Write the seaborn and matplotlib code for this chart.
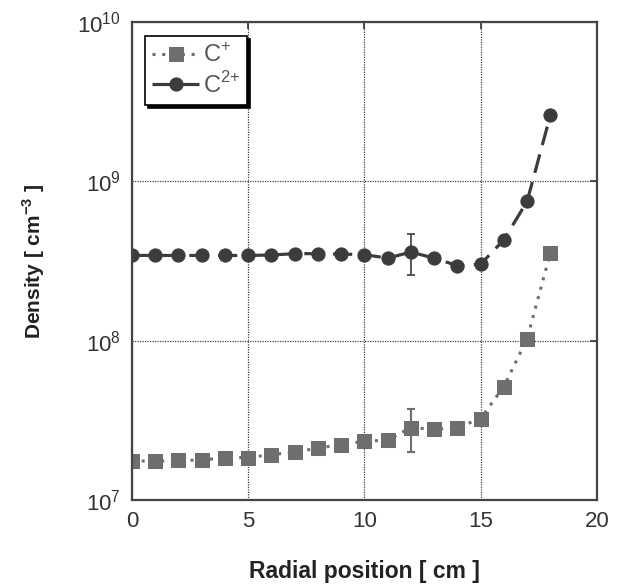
import numpy as np
import pandas as pd
import seaborn as sns
import matplotlib.pyplot as plt

# data
radius = [0, 1, 2, 3, 4, 5, 6, 7, 8, 9, 10, 11, 12, 13, 14, 15, 16, 17, 18]
c_plus = [1.77e7, 1.75e7, 1.78e7, 1.78e7, 1.85e7, 1.85e7, 1.93e7, 2.0e7,
          2.12e7, 2.23e7, 2.34e7, 2.38e7, 2.85e7, 2.78e7, 2.85e7, 3.25e7,
          5.16e7, 1.03e8, 3.56e8]
c_2plus = [3.43e8, 3.43e8, 3.43e8, 3.43e8, 3.43e8, 3.43e8, 3.45e8, 3.52e8,
           3.52e8, 3.5e8, 3.47e8, 3.3e8, 3.6e8, 3.3e8, 2.96e8, 3.02e8,
           4.3e8, 7.5e8, 2.6e9]
err_x = [12]
c_plus_err = [2.85e7]
c_plus_lo = [2.01e7]
c_plus_hi = [3.75e7]
c_2plus_err = [3.6e8]
c_2plus_lo = [2.57e8]
c_2plus_hi = [4.69e8]

sns.set_style("white")
plt.rcParams["font.family"] = ["Liberation Sans", "DejaVu Sans"]
plt.rcParams["mathtext.fontset"] = "custom"
plt.rcParams["mathtext.rm"] = "Liberation Sans"
plt.rcParams["mathtext.bf"] = "Liberation Sans:bold"

df = pd.DataFrame({"r": radius, "cp": c_plus, "c2p": c_2plus})

fig = plt.figure(figsize=(6.37, 5.87), dpi=100)
ax = fig.add_axes([0.207, 0.148, 0.73, 0.8145])

sq_col = "#6e6e6e"
ci_col = "#3c3c3c"

sns.lineplot(data=df, x="r", y="cp", ax=ax, color=sq_col, linestyle=(0, (1, 2.2)),
             linewidth=2.2, marker="s", markersize=10, markeredgecolor=sq_col,
             label="C$^{+}$")
sns.lineplot(data=df, x="r", y="c2p", ax=ax, color=ci_col, linestyle=(0, (6, 3)),
             linewidth=2.3, marker="o", markersize=9.5, markeredgecolor=ci_col,
             label="C$^{2{+}}$")

ax.errorbar(err_x, c_plus_err,
            yerr=[np.subtract(c_plus_err, c_plus_lo), np.subtract(c_plus_hi, c_plus_err)],
            fmt="none", ecolor=sq_col, elinewidth=1.5, capsize=3, capthick=1.5)
ax.errorbar(err_x, c_2plus_err,
            yerr=[np.subtract(c_2plus_err, c_2plus_lo), np.subtract(c_2plus_hi, c_2plus_err)],
            fmt="none", ecolor=ci_col, elinewidth=1.2, capsize=3, capthick=1.2)

ax.set_yscale("log")
ax.set_xlim(0, 20)
ax.set_ylim(1e7, 1e10)
ax.set_xticks([0, 5, 10, 15, 20])
ax.set_yticks([1e7, 1e8, 1e9, 1e10])
ax.minorticks_off()
ax.yaxis.set_minor_locator(plt.NullLocator())
ax.grid(True, which="major", color="#444444", linestyle=(0, (1, 1)), linewidth=0.9)
ax.tick_params(axis="both", direction="in", length=5, width=1.2,
               labelsize=16, colors="#333333", top=True, right=True, pad=8)
for s in ax.spines.values():
    s.set_color("#444444")
    s.set_linewidth(1.6)

ax.set_xlabel("Radial position [ cm ]", fontsize=16.5, fontweight="bold",
              color="#222222", labelpad=20)
ax.set_ylabel("Density [ cm$^{\\mathbf{-3}}$ ]", fontsize=15, fontweight="bold",
              color="#222222", labelpad=22)

leg = ax.legend(loc="upper left", bbox_to_anchor=(0.028, 0.97), fontsize=17,
                frameon=True, fancybox=False, edgecolor="black", framealpha=1,
                shadow={"color": "black", "alpha": 1}, handlelength=2.0,
                handletextpad=0.15, borderpad=0.3, labelspacing=0.2,
                borderaxespad=0)
leg.get_frame().set_linewidth(1.2)
for t in leg.get_texts():
    t.set_color("#555555")

plt.savefig("out.png", dpi=100)
plt.close("all")
